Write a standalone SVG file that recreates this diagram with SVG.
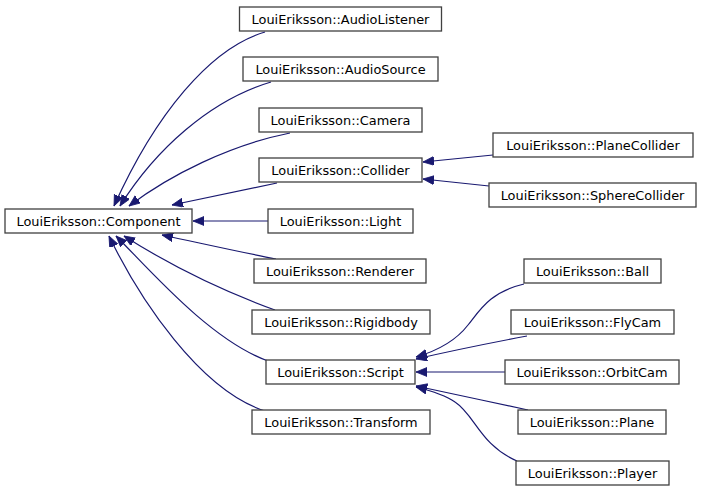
<svg xmlns="http://www.w3.org/2000/svg" width="701" height="493" viewBox="0 0 701 493">
<defs>
<style>
.n rect{fill:#ffffff;stroke:#404040;stroke-width:1.3}
.n text{font-family:"DejaVu Sans","Liberation Sans",sans-serif;font-size:12.9px;fill:#000000;text-anchor:middle}
.e path{fill:none;stroke:#191970;stroke-width:1.2;marker-end:url(#arr)}
</style>
<marker id="arr" markerUnits="userSpaceOnUse" markerWidth="12" markerHeight="10" refX="11" refY="4.5" orient="auto">
<path d="M0,0 L11,4.5 L0,9 z" fill="#191970" stroke="#191970" stroke-width="0.8"/>
</marker>
</defs>
<rect width="701" height="493" fill="#ffffff"/>
<g id="edges" class="e">
<path d="M265,32 C210,48 155,115 114,206"/>
<path d="M271,82 C210,100 155,150 120,206"/>
<path d="M290,133 C230,145 170,175 129,206"/>
<path d="M277,183 C240,191 205,198 172,205"/>
<path d="M268,221 L193,221"/>
<path d="M276,259 C240,252 200,243 162,235"/>
<path d="M275,310 C220,290 165,262 124,236"/>
<path d="M268,361 C210,340 150,270 116,236"/>
<path d="M265,411 C200,390 140,300 109,236"/>
<path d="M493,155 L423,162"/>
<path d="M489,186 L423,179"/>
<path d="M524,284 C490,292 480,310 468,325 C458,338 440,350 416,357"/>
<path d="M527,336 C490,343 455,350 416,359"/>
<path d="M505,372 L416,372"/>
<path d="M528,410 C490,402 455,394 416,386"/>
<path d="M517,461 C480,445 475,415 455,402 C445,395 432,391 416,387"/>
</g>
<g id="Component" class="n"><rect x="5" y="209" width="187" height="24"/><text x="98.5" y="225.5">LouiEriksson::Component</text></g>
<g id="AudioListener" class="n"><rect x="239.5" y="7" width="202" height="24"/><text x="340.5" y="23.5">LouiEriksson::AudioListener</text></g>
<g id="AudioSource" class="n"><rect x="243" y="57" width="195" height="24"/><text x="340.5" y="73.5">LouiEriksson::AudioSource</text></g>
<g id="Camera" class="n"><rect x="259" y="108" width="163" height="24"/><text x="340.5" y="124.5">LouiEriksson::Camera</text></g>
<g id="Collider" class="n"><rect x="259" y="158" width="163" height="24"/><text x="340.5" y="174.5">LouiEriksson::Collider</text></g>
<g id="Light" class="n"><rect x="268" y="209" width="145" height="24"/><text x="340.5" y="225.5">LouiEriksson::Light</text></g>
<g id="Renderer" class="n"><rect x="254" y="259" width="172" height="24"/><text x="340" y="275.5">LouiEriksson::Renderer</text></g>
<g id="Rigidbody" class="n"><rect x="252" y="310" width="178" height="24"/><text x="341" y="326.5">LouiEriksson::Rigidbody</text></g>
<g id="Script" class="n"><rect x="266" y="360" width="149" height="24"/><text x="340.5" y="376.5">LouiEriksson::Script</text></g>
<g id="Transform" class="n"><rect x="252" y="410" width="178" height="24"/><text x="341" y="426.5">LouiEriksson::Transform</text></g>
<g id="PlaneCollider" class="n"><rect x="493" y="133" width="200" height="24"/><text x="593" y="149.5">LouiEriksson::PlaneCollider</text></g>
<g id="SphereCollider" class="n"><rect x="489" y="183" width="207" height="24"/><text x="592.5" y="199.5">LouiEriksson::SphereCollider</text></g>
<g id="Ball" class="n"><rect x="524" y="259" width="137" height="24"/><text x="592.5" y="275.5">LouiEriksson::Ball</text></g>
<g id="FlyCam" class="n"><rect x="511" y="310" width="163" height="24"/><text x="592.5" y="326.5">LouiEriksson::FlyCam</text></g>
<g id="OrbitCam" class="n"><rect x="505" y="360" width="174" height="24"/><text x="592" y="376.5">LouiEriksson::OrbitCam</text></g>
<g id="Plane" class="n"><rect x="518" y="410" width="148" height="24"/><text x="592" y="426.5">LouiEriksson::Plane</text></g>
<g id="Player" class="n"><rect x="516" y="461" width="153" height="24"/><text x="592.5" y="477.5">LouiEriksson::Player</text></g>
</svg>
